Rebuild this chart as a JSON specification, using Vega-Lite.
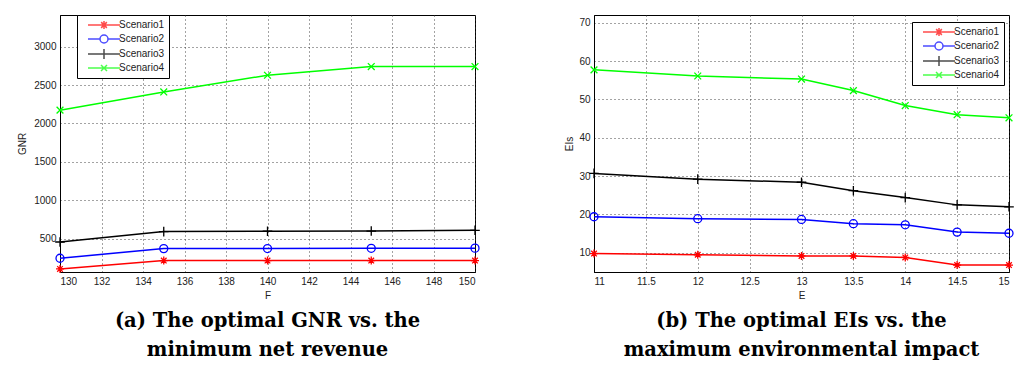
{
  "$schema": "https://vega.github.io/schema/vega-lite/v6.json",
  "background": "white",
  "padding": {"left": 17, "top": 14, "right": 3, "bottom": 0},
  "spacing": 81,
  "datasets": {
    "gnr": [
      {"F": 130, "GNR": 110, "Scenario": "Scenario1"},
      {"F": 135, "GNR": 218, "Scenario": "Scenario1"},
      {"F": 140, "GNR": 218, "Scenario": "Scenario1"},
      {"F": 145, "GNR": 218, "Scenario": "Scenario1"},
      {"F": 150, "GNR": 218, "Scenario": "Scenario1"},
      {"F": 130, "GNR": 249, "Scenario": "Scenario2"},
      {"F": 135, "GNR": 374, "Scenario": "Scenario2"},
      {"F": 140, "GNR": 375, "Scenario": "Scenario2"},
      {"F": 145, "GNR": 378, "Scenario": "Scenario2"},
      {"F": 150, "GNR": 380, "Scenario": "Scenario2"},
      {"F": 130, "GNR": 460, "Scenario": "Scenario3"},
      {"F": 135, "GNR": 595, "Scenario": "Scenario3"},
      {"F": 140, "GNR": 600, "Scenario": "Scenario3"},
      {"F": 145, "GNR": 602, "Scenario": "Scenario3"},
      {"F": 150, "GNR": 612, "Scenario": "Scenario3"},
      {"F": 130, "GNR": 2173, "Scenario": "Scenario4"},
      {"F": 135, "GNR": 2410, "Scenario": "Scenario4"},
      {"F": 140, "GNR": 2627, "Scenario": "Scenario4"},
      {"F": 145, "GNR": 2740, "Scenario": "Scenario4"},
      {"F": 150, "GNR": 2740, "Scenario": "Scenario4"}
    ],
    "eis": [
      {"E": 11, "EIs": 9.8, "Scenario": "Scenario1"},
      {"E": 12, "EIs": 9.5, "Scenario": "Scenario1"},
      {"E": 13, "EIs": 9.2, "Scenario": "Scenario1"},
      {"E": 13.5, "EIs": 9.2, "Scenario": "Scenario1"},
      {"E": 14, "EIs": 8.8, "Scenario": "Scenario1"},
      {"E": 14.5, "EIs": 6.8, "Scenario": "Scenario1"},
      {"E": 15, "EIs": 6.8, "Scenario": "Scenario1"},
      {"E": 11, "EIs": 19.4, "Scenario": "Scenario2"},
      {"E": 12, "EIs": 18.9, "Scenario": "Scenario2"},
      {"E": 13, "EIs": 18.7, "Scenario": "Scenario2"},
      {"E": 13.5, "EIs": 17.6, "Scenario": "Scenario2"},
      {"E": 14, "EIs": 17.3, "Scenario": "Scenario2"},
      {"E": 14.5, "EIs": 15.4, "Scenario": "Scenario2"},
      {"E": 15, "EIs": 15.1, "Scenario": "Scenario2"},
      {"E": 11, "EIs": 30.7, "Scenario": "Scenario3"},
      {"E": 12, "EIs": 29.2, "Scenario": "Scenario3"},
      {"E": 13, "EIs": 28.4, "Scenario": "Scenario3"},
      {"E": 13.5, "EIs": 26.2, "Scenario": "Scenario3"},
      {"E": 14, "EIs": 24.4, "Scenario": "Scenario3"},
      {"E": 14.5, "EIs": 22.5, "Scenario": "Scenario3"},
      {"E": 15, "EIs": 22.0, "Scenario": "Scenario3"},
      {"E": 11, "EIs": 57.7, "Scenario": "Scenario4"},
      {"E": 12, "EIs": 56.1, "Scenario": "Scenario4"},
      {"E": 13, "EIs": 55.3, "Scenario": "Scenario4"},
      {"E": 13.5, "EIs": 52.3, "Scenario": "Scenario4"},
      {"E": 14, "EIs": 48.4, "Scenario": "Scenario4"},
      {"E": 14.5, "EIs": 46.0, "Scenario": "Scenario4"},
      {"E": 15, "EIs": 45.2, "Scenario": "Scenario4"}
    ]
  },
  "config": {
    "view": {"stroke": "black", "strokeWidth": 1},
    "axis": {
      "labelFont": "Liberation Sans", "labelFontSize": 10, "labelColor": "#222",
      "titleFont": "Liberation Sans", "titleFontSize": 10, "titleFontWeight": "normal", "titleColor": "#222",
      "domainColor": "black", "ticks": false, "labelPadding": 4, "titlePadding": 4,
      "gridColor": "#333", "gridDash": [1, 3], "gridOpacity": 0.9, "gridWidth": 1
    },
    "title": {"font": "DejaVu Serif", "fontSize": 19.5, "fontWeight": "bold", "color": "black", "lineHeight": 29, "offset": 12, "orient": "bottom", "anchor": "middle"},
    "legend": {
      "title": null, "orient": "none", "fillColor": "white", "strokeColor": "black", "strokeWidth": 1,
      "padding": 4, "labelFont": "Liberation Sans", "labelFontSize": 10, "labelColor": "#222",
      "rowPadding": 0, "symbolSize": 100, "symbolStrokeWidth": 1.5, "symbolOffset": 17, "labelOffset": 9
    }
  },
  "resolve": {
    "scale": {"color": "independent", "shape": "independent"},
    "legend": {"color": "independent", "shape": "independent"}
  },
  "hconcat": [
    {
      "width": 415, "height": 257,
      "data": {"name": "gnr"},
      "title": {"text": ["(a) The optimal GNR vs. the", "minimum net revenue"]},
      "encoding": {
        "x": {"field": "F", "type": "quantitative", "scale": {"domain": [130, 150], "nice": false, "zero": false},
              "axis": {"title": "F", "values": [130, 132, 134, 136, 138, 140, 142, 144, 146, 148, 150], "format": "d"}},
        "y": {"field": "GNR", "type": "quantitative", "scale": {"domain": [70, 3410], "nice": false, "zero": false},
              "axis": {"title": "GNR", "values": [500, 1000, 1500, 2000, 2500, 3000], "format": "d", "titlePadding": 6}}
      },
      "layer": [
        {"transform": [{"filter": "false"}],
         "mark": {"type": "point", "filled": false, "strokeWidth": 1.3},
         "encoding": {
           "color": {"field": "Scenario", "type": "nominal",
                     "scale": {"domain": ["Scenario1", "Scenario2", "Scenario3", "Scenario4"], "range": ["#ff0000", "#0000ff", "#000000", "#00ff00"]},
                     "legend": {"legendX": 17, "legendY": 0}},
           "shape": {"field": "Scenario", "type": "nominal",
                     "scale": {"domain": ["Scenario1", "Scenario2", "Scenario3", "Scenario4"],
                               "range": ["M-3.2,0L3.2,0M0,-0.8L0,0.8M-0.57,-0.57L0.57,0.57M-0.57,0.57L0.57,-0.57", "M-3.2,0L-0.8,0M0.8,0L3.2,0M0.8,0A0.8,0.8 0 1,1 -0.8,0A0.8,0.8 0 1,1 0.8,0", "M-3.2,0L3.2,0M0,-1L0,1", "M-3.2,0L3.2,0M-0.6,-0.6L0.6,0.6M-0.6,0.6L0.6,-0.6"]},
                     "legend": {"legendX": 17, "legendY": 0}}}},
        {"mark": {"type": "line", "strokeWidth": 1.5},
         "encoding": {"color": {"field": "Scenario", "type": "nominal", "legend": {"legendX": 17, "legendY": 0}}}},
        {"transform": [{"filter": "datum.Scenario == 'Scenario1'"}],
         "mark": {"type": "point", "filled": false, "size": 64, "strokeWidth": 1.3, "opacity": 1, "color": "#ff0000", "shape": "M-1,0L1,0M0,-1L0,1M-0.7,-0.7L0.7,0.7M-0.7,0.7L0.7,-0.7"}},
        {"transform": [{"filter": "datum.Scenario == 'Scenario2'"}],
         "mark": {"type": "point", "filled": false, "size": 64, "strokeWidth": 1.3, "opacity": 1, "color": "#0000ff", "shape": "circle"}},
        {"transform": [{"filter": "datum.Scenario == 'Scenario3'"}],
         "mark": {"type": "point", "filled": false, "size": 64, "strokeWidth": 1.3, "opacity": 1, "color": "#000000", "shape": "M-1.2,0L1.2,0M0,-1.2L0,1.2"}},
        {"transform": [{"filter": "datum.Scenario == 'Scenario4'"}],
         "mark": {"type": "point", "filled": false, "size": 64, "strokeWidth": 1.3, "opacity": 1, "color": "#00ff00", "shape": "M-0.85,-0.85L0.85,0.85M-0.85,0.85L0.85,-0.85"}}
      ]
    },
    {
      "width": 415, "height": 257,
      "data": {"name": "eis"},
      "title": {"text": ["(b) The optimal EIs vs. the", "maximum environmental impact"]},
      "encoding": {
        "x": {"field": "E", "type": "quantitative", "scale": {"domain": [11, 15], "nice": false, "zero": false},
              "axis": {"title": "E", "values": [11, 11.5, 12, 12.5, 13, 13.5, 14, 14.5, 15], "format": "~g"}},
        "y": {"field": "EIs", "type": "quantitative", "scale": {"domain": [5, 72], "nice": false, "zero": false},
              "axis": {"title": "EIs", "values": [10, 20, 30, 40, 50, 60, 70], "format": "d", "titlePadding": 4}}
      },
      "layer": [
        {"transform": [{"filter": "false"}],
         "mark": {"type": "point", "filled": false, "strokeWidth": 1.3},
         "encoding": {
           "color": {"field": "Scenario", "type": "nominal",
                     "scale": {"domain": ["Scenario1", "Scenario2", "Scenario3", "Scenario4"], "range": ["#ff0000", "#0000ff", "#000000", "#00ff00"]},
                     "legend": {"legendX": 318, "legendY": 7}},
           "shape": {"field": "Scenario", "type": "nominal",
                     "scale": {"domain": ["Scenario1", "Scenario2", "Scenario3", "Scenario4"],
                               "range": ["M-3.2,0L3.2,0M0,-0.8L0,0.8M-0.57,-0.57L0.57,0.57M-0.57,0.57L0.57,-0.57", "M-3.2,0L-0.8,0M0.8,0L3.2,0M0.8,0A0.8,0.8 0 1,1 -0.8,0A0.8,0.8 0 1,1 0.8,0", "M-3.2,0L3.2,0M0,-1L0,1", "M-3.2,0L3.2,0M-0.6,-0.6L0.6,0.6M-0.6,0.6L0.6,-0.6"]},
                     "legend": {"legendX": 318, "legendY": 7}}}},
        {"mark": {"type": "line", "strokeWidth": 1.5},
         "encoding": {"color": {"field": "Scenario", "type": "nominal", "legend": {"legendX": 318, "legendY": 7}}}},
        {"transform": [{"filter": "datum.Scenario == 'Scenario1'"}],
         "mark": {"type": "point", "filled": false, "size": 64, "strokeWidth": 1.3, "opacity": 1, "color": "#ff0000", "shape": "M-1,0L1,0M0,-1L0,1M-0.7,-0.7L0.7,0.7M-0.7,0.7L0.7,-0.7"}},
        {"transform": [{"filter": "datum.Scenario == 'Scenario2'"}],
         "mark": {"type": "point", "filled": false, "size": 64, "strokeWidth": 1.3, "opacity": 1, "color": "#0000ff", "shape": "circle"}},
        {"transform": [{"filter": "datum.Scenario == 'Scenario3'"}],
         "mark": {"type": "point", "filled": false, "size": 64, "strokeWidth": 1.3, "opacity": 1, "color": "#000000", "shape": "M-1.2,0L1.2,0M0,-1.2L0,1.2"}},
        {"transform": [{"filter": "datum.Scenario == 'Scenario4'"}],
         "mark": {"type": "point", "filled": false, "size": 64, "strokeWidth": 1.3, "opacity": 1, "color": "#00ff00", "shape": "M-0.85,-0.85L0.85,0.85M-0.85,0.85L0.85,-0.85"}}
      ]
    }
  ]
}
